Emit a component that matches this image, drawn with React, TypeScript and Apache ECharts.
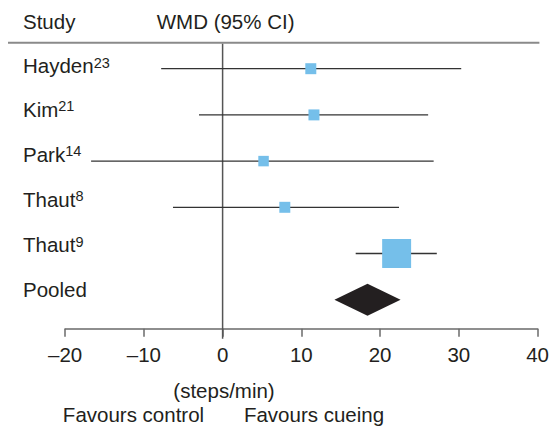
import React, { useEffect, useRef } from "react";
import * as echarts from "echarts";

// ---- data ----
const studies = ["Hayden", "Kim", "Park", "Thaut", "Thaut"];
const refs = ["23", "21", "14", "8", "9"];
const wmd = [11.2, 11.6, 5.2, 7.9, 22.1];
const lower = [-7.8, -3.0, -16.7, -6.3, 16.9];
const upper = [30.3, 26.1, 26.8, 22.4, 27.2];
const weights = [9.2, 9.2, 8.4, 9.2, 64.0];
const pooledLabel = "Pooled";
const pooled = [18.4, 14.2, 22.6]; // estimate, lower, upper
const xTicks = [-20, -10, 0, 10, 20, 30, 40];

// ---- layout ----
const W = 552;
const H = 427;
const FONT = '"Liberation Sans", Arial, Helvetica, sans-serif';
const TXT = "#231f20";
const GRID_LEFT = 65.1;
const GRID_RIGHT = W - 539.4;
const GRID_TOP = 68.7;
const GRID_BOTTOM_Y = 328.7;
const ROW_PX = 46.2;
const RULE_Y = 42.7;
const LABEL_Y = [65.8, 109.2, 154.2, 199.2, 244.8, 289.2];

export default function App() {
  const ref = useRef<HTMLDivElement>(null);
  useEffect(() => {
    if (!ref.current) return;
    const chart = echarts.init(ref.current, undefined, { renderer: "svg" });
    const yMax = (GRID_BOTTOM_Y - GRID_TOP) / ROW_PX;
    const studyData = studies.map((_, i) => [lower[i], upper[i], wmd[i], i, weights[i]]);
    const pooledRow = studies.length;

    const labelGraphics: any[] = studies.map((s, i) => ({
      type: "text",
      left: 23,
      top: LABEL_Y[i] - 12,
      style: {
        text: `{n|${s}}{s|${refs[i]}}`,
        rich: {
          n: { fontSize: 20.5, fontFamily: FONT, fill: TXT, lineHeight: 24 },
          s: { fontSize: 14.5, fontFamily: FONT, fill: TXT, lineHeight: 12, verticalAlign: "top", padding: [1.5, 0, 0, 0] },
        },
      },
    }));
    labelGraphics.push({
      type: "text",
      left: 23,
      top: LABEL_Y[5] - 12,
      style: { text: pooledLabel, fontSize: 20.5, fontFamily: FONT, fill: TXT, lineHeight: 24 },
    });

    chart.setOption({
      animation: false,
      grid: { left: GRID_LEFT, right: GRID_RIGHT, top: GRID_TOP, bottom: H - GRID_BOTTOM_Y, containLabel: false },
      xAxis: {
        type: "value",
        position: "bottom",
        min: xTicks[0],
        max: xTicks[xTicks.length - 1],
        interval: 10,
        splitLine: { show: false },
        axisLine: { show: true, onZero: false, lineStyle: { color: "#6a6a6a", width: 1.5 } },
        axisTick: { show: true, length: 8, inside: false, lineStyle: { color: "#6a6a6a", width: 1.5 } },
        axisLabel: {
          fontSize: 20.5,
          fontFamily: FONT,
          color: TXT,
          margin: 15,
          formatter: (v: number) => String(v).replace("-", "\u2013"),
        },
      },
      yAxis: { type: "value", inverse: true, min: 0, max: yMax, show: false },
      graphic: [
        { type: "text", left: 23, top: 21.7 - 12, style: { text: "Study", fontSize: 20.5, fontFamily: FONT, fill: TXT, lineHeight: 24 } },
        { type: "text", left: 156.7, top: 21.7 - 12, style: { text: "WMD (95% CI)", fontSize: 20.5, fontFamily: FONT, fill: TXT, lineHeight: 24 } },
        { type: "line", shape: { x1: 8, y1: RULE_Y, x2: 539.4, y2: RULE_Y }, style: { stroke: "#8a8a8a", lineWidth: 2 } },
        ...labelGraphics,
        { type: "text", x: 224, y: 390, style: { text: "(steps/min)", fontSize: 20.5, fontFamily: FONT, fill: TXT, align: "center", verticalAlign: "middle" } },
        { type: "text", x: 133.5, y: 414, style: { text: "Favours control", fontSize: 20.5, fontFamily: FONT, fill: TXT, align: "center", verticalAlign: "middle" } },
        { type: "text", x: 314, y: 414, style: { text: "Favours cueing", fontSize: 20.5, fontFamily: FONT, fill: TXT, align: "center", verticalAlign: "middle" } },
      ],
      series: [
        {
          type: "custom",
          clip: false,
          data: [[0]],
          z: 1,
          renderItem: (params: any, api: any) => {
            const x = api.coord([0, 0])[0];
            return {
              type: "line",
              shape: { x1: x, y1: RULE_Y + 1, x2: x, y2: GRID_BOTTOM_Y + 10 },
              style: { stroke: "#555", lineWidth: 1.5 },
            };
          },
        },
        {
          type: "custom",
          clip: false,
          data: studyData,
          z: 2,
          renderItem: (params: any, api: any) => {
            const lo = api.coord([api.value(0), api.value(3)]);
            const hi = api.coord([api.value(1), api.value(3)]);
            const c = api.coord([api.value(2), api.value(3)]);
            const s = Math.sqrt(api.value(4)) * 3.62;
            return {
              type: "group",
              children: [
                { type: "line", shape: { x1: lo[0], y1: lo[1], x2: hi[0], y2: hi[1] }, style: { stroke: "#333", lineWidth: 1.3 } },
                { type: "rect", shape: { x: c[0] - s / 2, y: c[1] - s / 2, width: s, height: s }, style: { fill: "#75bfea" } },
              ],
            };
          },
        },
        {
          type: "custom",
          clip: false,
          data: [[pooled[0], pooled[1], pooled[2], pooledRow]],
          z: 2,
          renderItem: (params: any, api: any) => {
            const c = api.coord([api.value(0), api.value(3)]);
            const l = api.coord([api.value(1), api.value(3)]);
            const r = api.coord([api.value(2), api.value(3)]);
            const h = 16;
            return {
              type: "polygon",
              shape: { points: [[l[0], l[1]], [c[0], c[1] - h], [r[0], r[1]], [c[0], c[1] + h]] },
              style: { fill: "#231f20" },
            };
          },
        },
      ],
    });
    return () => chart.dispose();
  }, []);
  return <div ref={ref} style={{ position: "fixed", left: 0, top: 0, width: W, height: H, background: "#fff" }} />;
}
